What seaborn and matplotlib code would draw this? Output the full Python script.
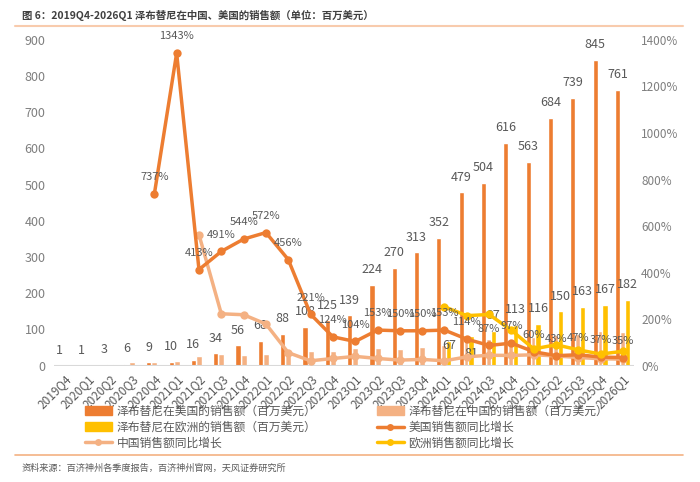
import numpy as np
import pandas as pd
import matplotlib
matplotlib.use('Agg')
import matplotlib.pyplot as plt
import seaborn as sns
from matplotlib.lines import Line2D
from matplotlib.patches import Patch
from matplotlib.ticker import FuncFormatter

nan = np.nan

# quarters on the x axis
quarters = ['2019Q4', '2020Q1', '2020Q2', '2020Q3', '2020Q4', '2021Q1', '2021Q2',
            '2021Q3', '2021Q4', '2022Q1', '2022Q2', '2022Q3', '2022Q4', '2023Q1',
            '2023Q2', '2023Q3', '2023Q4', '2024Q1', '2024Q2', '2024Q3', '2024Q4',
            '2025Q1', '2025Q2', '2025Q3', '2025Q4', '2026Q1']

# sales, million USD
us_sales = [1, 1, 3, 6, 9, 10, 16, 34, 56, 68, 88, 108, 125, 139, 224, 270, 313, 352,
            479, 504, 616, 563, 684, 739, 845, 761]
cn_sales = [0.5, 0.5, 4, 10, 9, 12, 27, 32, 29, 33, 37, 40, 41, 48, 48, 46, 52, 57,
            68, 73, 64, 78, 85, 88, 95, 94]
eu_sales = [nan] * 17 + [67, 81, 97, 113, 116, 150, 163, 167, 182]

# yoy growth, %
us_yoy = [nan] * 4 + [737, 1343, 413, 491, 544, 572, 456, 221, 124, 104, 153, 150, 150,
                      153, 114, 87, 97, 60, 43, 47, 37, 35]
cn_yoy = [nan] * 6 + [563, 223, 219, 179, 56, 21, 31, 40, 31, 24, 27, 21, 38, 45, 44,
                      47, 42, 35, 30, 28]
eu_yoy = [nan] * 17 + [253, 215, 220, 152, 72, 90, 68, 50, 62]

c_us = '#ED7D31'
c_cn = '#F4B183'
c_eu = '#FFC000'
c_txt = '#595959'

sns.set_theme(style='white')
plt.rcParams['font.family'] = ['Noto Sans CJK SC', 'DejaVu Sans']

fig = plt.figure(figsize=(7, 4.82), dpi=100)
ax = fig.add_axes([0.077, 0.2413, 0.829, 0.676])
ax2 = ax.twinx()

x = np.arange(len(quarters))

# bars
ax.bar(x + 0.0, cn_sales, width=0.27, color=c_cn, zorder=1)
ax.bar(x - 0.25, us_sales, width=0.23, color=c_us, zorder=2)
ax.bar(x + 0.19, eu_sales, width=0.23, color=c_eu, zorder=3)
ax.axhline(0, color='#D9D9D9', lw=1.5, zorder=4)

for i, v in enumerate(us_sales):
    ax.annotate(str(v), (i - 0.25, v), xytext=(0, 11), textcoords='offset points',
                ha='center', va='center', fontsize=9, color=c_txt)

eu_off = {67: -3, 81: -12}
for i, v in enumerate(eu_sales):
    if np.isnan(v):
        continue
    ax.annotate(str(int(v)), (i + 0.19, v), xytext=(0, eu_off.get(v, 11)),
                textcoords='offset points', ha='center', va='center', fontsize=9,
                color=c_txt)

# growth lines
df = pd.DataFrame({'x': x, 'us': us_yoy, 'cn': cn_yoy, 'eu': eu_yoy})
for col, c in [('cn', c_cn), ('us', c_us), ('eu', c_eu)]:
    d = df[['x', col]].dropna()
    sns.lineplot(data=d, x='x', y=col, ax=ax2, color=c, linewidth=2.5, marker='o',
                 markersize=6, markeredgewidth=0)

for i, v in enumerate(us_yoy):
    if np.isnan(v):
        continue
    ax2.annotate(f'{int(v)}%', (i, v), xytext=(0, 12), textcoords='offset points',
                 ha='center', va='center', fontsize=8, color=c_txt)

ax.set_xlim(-0.5, len(quarters) - 0.5)
ax.set_ylim(0, 900)
ax2.set_ylim(0, 1400)
ax.set_yticks(range(0, 1000, 100))
ax2.set_yticks(range(0, 1600, 200))
ax2.yaxis.set_major_formatter(FuncFormatter(lambda v, p: f'{int(v)}%'))
ax.set_xticks(x)
ax.set_xticklabels(quarters, rotation=45, ha='right', rotation_mode='anchor')
ax.tick_params(axis='x', length=0, pad=5, labelsize=8.5, labelcolor=c_txt)
ax.tick_params(axis='y', length=0, pad=6, labelsize=9, labelcolor='#7F7F7F')
ax2.tick_params(axis='y', length=0, pad=5, labelsize=8.5, labelcolor='#7F7F7F')
ax.set_xlabel('')
ax.set_ylabel('')
ax2.set_xlabel('')
ax2.set_ylabel('')
for a in (ax, ax2):
    for s in a.spines.values():
        s.set_visible(False)
    a.grid(False)

# legend
h_us = Patch(color=c_us)
h_cn = Patch(color=c_cn)
h_eu = Patch(color=c_eu)
l_us = Line2D([], [], color=c_us, lw=2.5, marker='o', markersize=5, markeredgewidth=0)
l_cn = Line2D([], [], color=c_cn, lw=2.5, marker='o', markersize=5, markeredgewidth=0)
l_eu = Line2D([], [], color=c_eu, lw=2.5, marker='o', markersize=5, markeredgewidth=0)
handles = [h_us, h_eu, l_cn, h_cn, l_us, l_eu]
labels = ['泽布替尼在美国的销售额（百万美元）', '泽布替尼在欧洲的销售额（百万美元）', '中国销售额同比增长',
          '泽布替尼在中国的销售额（百万美元）', '美国销售额同比增长', '欧洲销售额同比增长']
fig.legend(handles, labels, ncol=2, loc='upper left', bbox_to_anchor=(0.121, 0.16),
           frameon=False, fontsize=8.5, labelcolor=c_txt, handlelength=2.3,
           handleheight=0.8, handletextpad=0.4, columnspacing=5.1, labelspacing=0.25,
           borderpad=0, borderaxespad=0)

# title, rules, source
fig.text(0.031, 0.968, '图 6：2019Q4-2026Q1 泽布替尼在中国、美国的销售额（单位：百万美元）',
         fontsize=7.5, fontweight='bold', color='#404040', va='center')
fig.add_artist(Line2D([0.021, 0.976], [0.946, 0.946], color='#F8CBAD', lw=1.5))
fig.add_artist(Line2D([0.021, 0.976], [0.056, 0.056], color='#F4B183', lw=1.2))
fig.text(0.031, 0.029, '资料来源：百济神州各季度报告，百济神州官网，天风证券研究所',
         fontsize=6.6, color=c_txt, va='center')

fig.savefig('out.png', dpi=100)
